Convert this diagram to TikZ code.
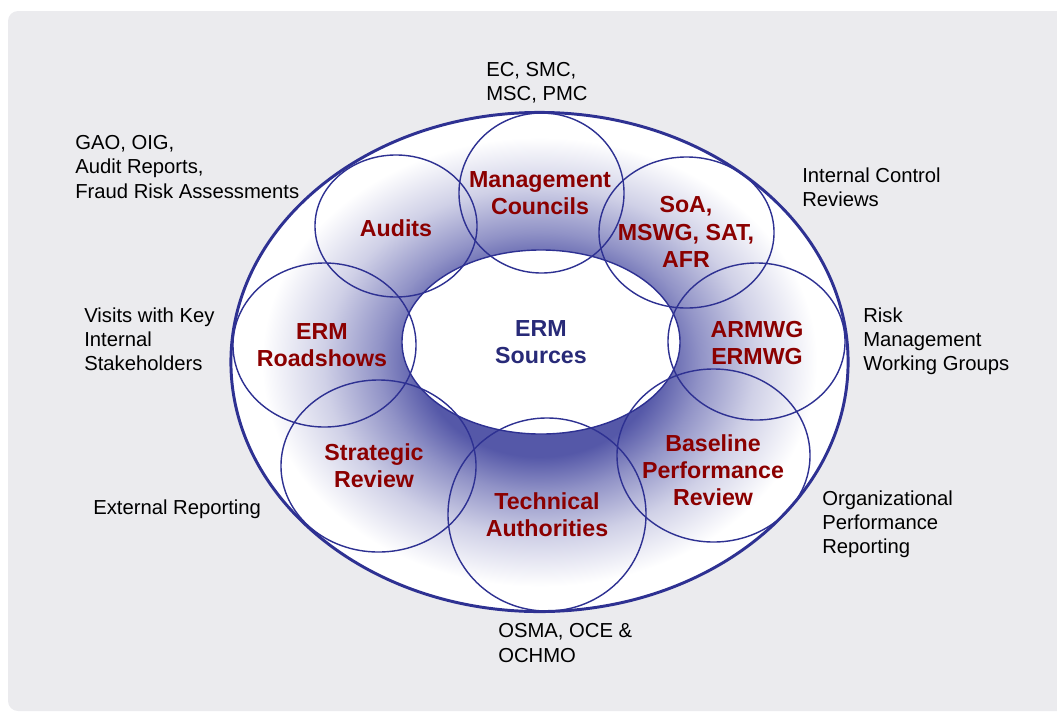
\documentclass[tikz,border=0pt]{standalone}
\usepackage{fontspec}
\setmainfont{Liberation Sans}
\usepackage{tikz}
\usetikzlibrary{shapes.geometric}
\definecolor{ermback}{RGB}{235,235,238}
\definecolor{ermline}{RGB}{46,49,146}
\definecolor{ermshade}{RGB}{85,88,168}
\definecolor{ermred}{RGB}{139,0,0}
\definecolor{ermnavy}{RGB}{40,42,120}
\pgfdeclareradialshading{ermringshade}{\pgfpointorigin}{%
  color(0bp)=(ermshade); color(9.5bp)=(ermshade); color(13bp)=(ermshade!65);
  color(17.5bp)=(ermshade!28); color(22.5bp)=(white); color(50bp)=(white)}
\tikzset{
  ermring/.style={
    ellipse, draw=ermline, line width=2.1pt, shading=ermringshade,
    minimum width=15.425cm, minimum height=12.475cm
  },
  ermcore/.style={
    ellipse, draw=ermline, line width=1pt, fill=white,
    minimum width=6.95cm, minimum height=4.6cm, text=ermnavy,
    align=center, font=\bfseries\fontsize{16.5}{19.4}\selectfont
  },
  ermbubble/.style={ellipse, draw=ermline, line width=1pt, inner sep=0pt},
  ermlabel/.style={
    text=ermred, align=center, inner sep=0pt,
    font=\bfseries\fontsize{16.5}{19.4}\selectfont
  },
  ermnote/.style={
    anchor=west, align=left, inner sep=0pt,
    font=\fontsize{14.4}{17.2}\selectfont
  }
}

\begin{document}
\begin{tikzpicture}[x=0.025cm, y=-0.025cm]
  \useasboundingbox (0,0) rectangle (1057,711);
  \fill[ermback, rounded corners=0.25cm] (8,11) rectangle (1075,711);

  \node[ermring] (ring) at (539.5,362) {};
  \node[ermcore] (core) at (541,342) {ERM\\Sources};

  % the eight sources round the core
  \node[ermbubble, minimum width=4.05cm, minimum height=3.55cm] (audits) at (396,226) {};
  \node[ermbubble, minimum width=4.125cm, minimum height=4cm] (councils) at (541.5,193) {};
  \node[ermbubble, minimum width=4.375cm, minimum height=3.775cm] (soa) at (686.5,232.5) {};
  \node[ermbubble, minimum width=4.425cm, minimum height=3.925cm] (armwg) at (756.5,341.5) {};
  \node[ermbubble, minimum width=4.825cm, minimum height=4.325cm] (baseline) at (713.5,455.5) {};
  \node[ermbubble, minimum width=4.95cm, minimum height=4.825cm] (technical) at (547,514.5) {};
  \node[ermbubble, minimum width=4.875cm, minimum height=4.3cm] (strategic) at (378.5,466) {};
  \node[ermbubble, minimum width=4.575cm, minimum height=4.1cm] (roadshows) at (324.5,345) {};

  \node[ermlabel] (auditslbl) at (396,228) {Audits};
  \node[ermlabel] (councilslbl) at (540,193) {Management\\Councils};
  \node[ermlabel] (soalbl) at (686,232) {SoA,\\MSWG, SAT,\\AFR};
  \node[ermlabel] (armwglbl) at (757,343) {ARMWG\\ERMWG};
  \node[ermlabel] (baselinelbl) at (713,470) {Baseline\\Performance\\Review};
  \node[ermlabel] (technicallbl) at (547,515) {Technical\\Authorities};
  \node[ermlabel] (strategiclbl) at (374,466) {Strategic\\Review};
  \node[ermlabel] (roadshowslbl) at (322,345) {ERM\\Roadshows};

  % outside notes
  \node[ermnote] (ecnote) at (486,83) {EC, SMC,\\MSC, PMC};
  \node[ermnote] (gaonote) at (75,167) {GAO, OIG,\\Audit Reports,\\Fraud Risk Assessments};
  \node[ermnote] (icnote) at (802,187) {Internal Control\\Reviews};
  \node[ermnote] (visitsnote) at (84,339) {Visits with Key\\Internal\\Stakeholders};
  \node[ermnote] (risknote) at (863,341) {Risk\\Management\\Working Groups};
  \node[ermnote] (externalnote) at (93,509) {External Reporting};
  \node[ermnote] (orgnote) at (822,524) {Organizational\\Performance\\Reporting};
  \node[ermnote] (osmanote) at (498,643) {OSMA, OCE \&\\OCHMO};
\end{tikzpicture}
\end{document}
